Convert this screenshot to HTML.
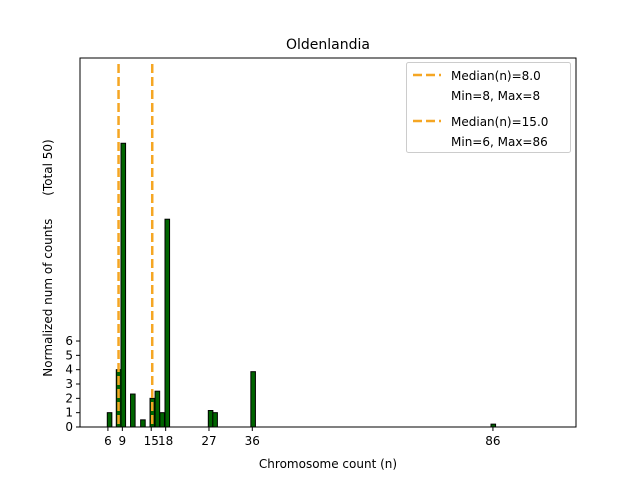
<!DOCTYPE html>
<html><head><meta charset="utf-8"><style>
body{margin:0;background:#fff;}
svg{font-family:"DejaVu Sans","Liberation Sans",sans-serif;}
</style></head><body>
<svg id="chart" width="640" height="480" xmlns="http://www.w3.org/2000/svg">
<rect width="640" height="480" fill="#fff"/>
<g id="bars"></g>
<g id="medians"></g>
<rect x="80" y="58" width="496" height="369" fill="none" stroke="#000" stroke-width="1"/>
<g id="xticks"></g>
<g id="yticks"></g>
<text x="328" y="49" text-anchor="middle" font-size="14">Oldenlandia</text>
<text x="328" y="468" text-anchor="middle" font-size="12">Chromosome count (n)</text>
<text transform="translate(52,258) rotate(-90)" text-anchor="middle" font-size="12" xml:space="preserve">Normalized num of counts      (Total 50)</text>
<g>
<rect x="406.5" y="62.5" width="164" height="90" rx="2" fill="#fff" fill-opacity="0.8" stroke="#ccc"/>
<line x1="413" y1="75" x2="441" y2="75" stroke="#f5a623" stroke-width="2.5" stroke-dasharray="9,4"/>
<text x="451" y="80" font-size="12">Median(n)=8.0</text>
<text x="451" y="100" font-size="12">Min=8, Max=8</text>
<line x1="413" y1="121" x2="441" y2="121" stroke="#f5a623" stroke-width="2.5" stroke-dasharray="9,4"/>
<text x="451" y="126" font-size="12">Median(n)=15.0</text>
<text x="451" y="146" font-size="12">Min=6, Max=86</text>
</g>
</svg>
<script>
const barStarts=[5.87,7.74,8.72,10.7,12.8,14.75,15.8,16.8,17.86,26.86,27.8,35.7,85.6];
const barHeights=[1,4,19.8,2.3,0.5,2,2.5,1,14.5,1.15,1,3.86,0.2];
const medians=[8,15];
const xTickVals=[6,9,15,18,27,36,86];
const yTickVals=[0,1,2,3,4,5,6];
const NS="http://www.w3.org/2000/svg";
const X0=80,X1=576,Y0=427,Y1=58,xmin=0.2,xmax=103.26,ymin=0,ymax=25.75;
function sx(v){return X0+(v-xmin)/(xmax-xmin)*(X1-X0);}
function sy(v){return Y0-(v-ymin)/(ymax-ymin)*(Y0-Y1);}
function mk(t,a,p){const e=document.createElementNS(NS,t);for(const k in a)e.setAttribute(k,a[k]);p.appendChild(e);return e;}
const gb=document.getElementById('bars');
barStarts.forEach((s,i)=>{
 const r=mk('rect',{x:sx(s),y:sy(barHeights[i]),width:sx(s+0.95)-sx(s),height:sy(0)-sy(barHeights[i]),fill:'#006400',stroke:'#000','stroke-width':1},gb);
 
 
});
const gm=document.getElementById('medians');
medians.forEach(m=>{
 const l=mk('line',{x1:sx(m)+1,x2:sx(m)+1,y1:Y1+6,y2:Y0,stroke:'#f5a623','stroke-width':2.5,'stroke-dasharray':'9,4'},gm);
 
 
});
const gx=document.getElementById('xticks');
xTickVals.forEach(v=>{
 mk('line',{x1:sx(v),x2:sx(v),y1:Y0,y2:Y0+4,stroke:'#000'},gx);
 const t=mk('text',{x:sx(v),y:Y0+18,'text-anchor':'middle','font-size':12},gx);
 t.textContent=v;
 
 
});
const gy=document.getElementById('yticks');
yTickVals.forEach(v=>{
 mk('line',{x1:X0-4,x2:X0,y1:sy(v),y2:sy(v),stroke:'#000'},gy);
 const t=mk('text',{x:X0-7,y:sy(v)+4,'text-anchor':'end','font-size':12},gy);
 t.textContent=v;
 
 
});
</script>
</body></html>
